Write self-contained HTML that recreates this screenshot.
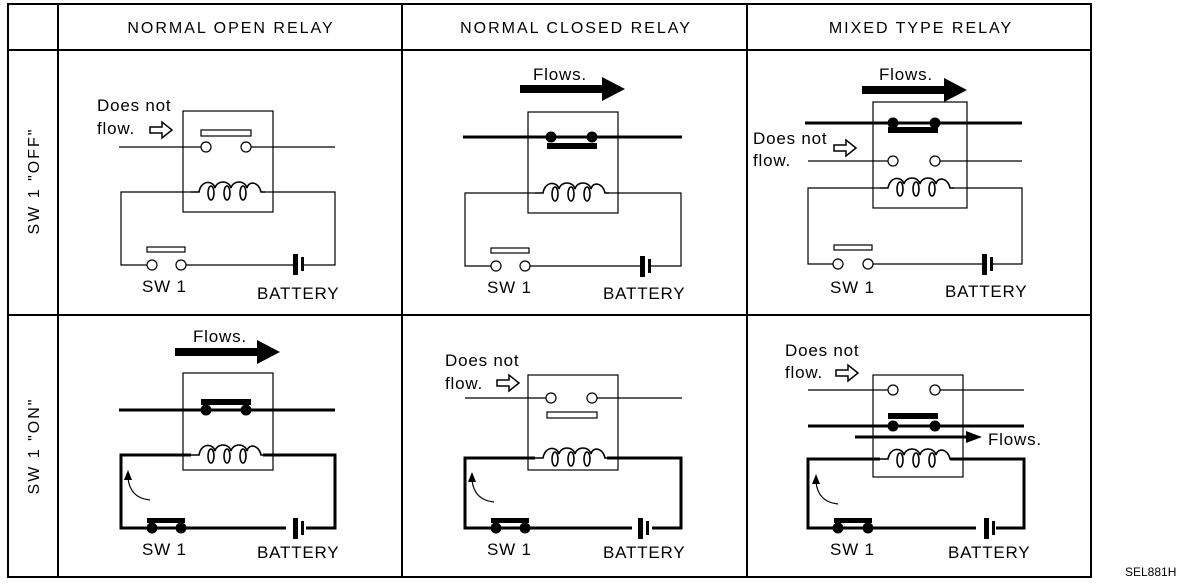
<!DOCTYPE html>
<html><head><meta charset="utf-8"><style>
html,body{margin:0;padding:0;background:#fff;}
svg{display:block;font-family:"Liberation Sans",sans-serif;}
</style></head><body>
<svg width="1200" height="588" viewBox="0 0 1200 588" xmlns="http://www.w3.org/2000/svg">
<defs>
<g id="coil" fill="none" stroke="#000" stroke-width="1.6">
<path d="M0,0 h8 c2,-12 14,-12 16,-4 c2,-8 14,-8 16,0 c2,-8 14,-8 16,0 c2,-8 12,-6 14,4 h4"/>
<ellipse cx="20" cy="1" rx="3" ry="7"/><ellipse cx="36" cy="1" rx="3" ry="7"/><ellipse cx="52" cy="1" rx="3" ry="7"/>
</g>
<g id="hollow"><path d="M0,-3 h12 v-5 l10,8 l-10,8 v-5 h-12 z" fill="#fff" stroke="#000" stroke-width="1.5"/></g>
<g id="bigarrow"><path d="M0,-4 h82 v-8 l23,12 l-23,12 v-8 h-82 z" fill="#000"/></g>
<g id="batt"><rect x="0" y="-10" width="5" height="21" fill="#000"/><rect x="8" y="-7" width="3" height="14" fill="#000"/></g>
</defs>
<g stroke="#000" fill="none" stroke-width="2">
<rect x="8" y="4" width="1083" height="573"/>
<line x1="58" y1="4" x2="58" y2="577"/>
<line x1="402" y1="4" x2="402" y2="577"/>
<line x1="747" y1="4" x2="747" y2="577"/>
<line x1="8" y1="50" x2="1091" y2="50"/>
<line x1="8" y1="315" x2="1091" y2="315"/>
</g>
<g font-size="16" letter-spacing="2" text-anchor="middle" fill="#000">
<text x="231" y="33">NORMAL OPEN RELAY</text>
<text x="576" y="33">NORMAL CLOSED RELAY</text>
<text x="921" y="33">MIXED TYPE RELAY</text>
<text transform="translate(39,181) rotate(-90)">SW 1 "OFF"</text>
<text transform="translate(39,446) rotate(-90)">SW 1 "ON"</text>
</g>
<g font-size="17" letter-spacing="0.8" fill="#000">
<text x="97" y="111">Does not</text><text x="97" y="134">flow.</text>
<use href="#hollow" x="150" y="130"/>
<text x="142" y="292">SW 1</text><text x="257" y="299">BATTERY</text>
<text x="533" y="80">Flows.</text>
<text x="487" y="293">SW 1</text><text x="603" y="299">BATTERY</text>
<text x="879" y="80">Flows.</text>
<text x="753" y="144">Does not</text><text x="753" y="166">flow.</text>
<use href="#hollow" x="834" y="148"/>
<text x="830" y="293">SW 1</text><text x="945" y="297">BATTERY</text>
<text x="193" y="342">Flows.</text>
<text x="142" y="555">SW 1</text><text x="257" y="558">BATTERY</text>
<text x="445" y="366">Does not</text><text x="445" y="389">flow.</text>
<use href="#hollow" x="497" y="383"/>
<text x="487" y="555">SW 1</text><text x="603" y="558">BATTERY</text>
<text x="785" y="356">Does not</text><text x="785" y="378">flow.</text>
<use href="#hollow" x="836" y="373"/>
<text x="988" y="445">Flows.</text>
<text x="830" y="555">SW 1</text><text x="948" y="558">BATTERY</text>
</g>
<text x="1125" y="576" font-size="12" font-family="Liberation Sans,sans-serif">SEL881H</text>
<g stroke="#000" fill="none" stroke-width="1.2">
<rect x="183" y="111" width="90" height="101"/>
<rect x="201" y="130" width="50" height="6"/>
<line x1="119" y1="147" x2="201" y2="147"/><line x1="251" y1="147" x2="335" y2="147"/>
<circle cx="206" cy="147" r="5" fill="#fff"/><circle cx="246" cy="147" r="5" fill="#fff"/>
<path d="M191,192 H121 V265 H147 M186,265 H293 M303,265 H335 V192 H263"/>
<rect x="147" y="247" width="38" height="5"/>
<circle cx="152" cy="265" r="5" fill="#fff"/><circle cx="181" cy="265" r="5" fill="#fff"/>
<rect x="528" y="112" width="90" height="101"/>
<path d="M535,193 H465 V266 H492 M530,266 H640 M650,266 H681 V193 H607"/>
<rect x="491" y="248" width="38" height="5"/>
<circle cx="496" cy="266" r="5" fill="#fff"/><circle cx="525" cy="266" r="5" fill="#fff"/>
<rect x="873" y="102" width="94" height="106"/>
<line x1="808" y1="161" x2="888" y2="161"/><line x1="940" y1="161" x2="1022" y2="161"/>
<circle cx="893" cy="161" r="5" fill="#fff"/><circle cx="935" cy="161" r="5" fill="#fff"/>
<path d="M880,188 H808 V264 H833 M872,264 H982 M992,264 H1022 V188 H952"/>
<rect x="834" y="245" width="38" height="5"/>
<circle cx="838" cy="264" r="5" fill="#fff"/><circle cx="868" cy="264" r="5" fill="#fff"/>
<rect x="183" y="373" width="90" height="97"/>
<rect x="528" y="375" width="90" height="95"/>
<rect x="547" y="412" width="50" height="6"/>
<line x1="465" y1="398" x2="546" y2="398"/><line x1="597" y1="398" x2="682" y2="398"/>
<circle cx="551" cy="398" r="5" fill="#fff"/><circle cx="592" cy="398" r="5" fill="#fff"/>
<rect x="873" y="375" width="90" height="102"/>
<line x1="808" y1="390" x2="888" y2="390"/><line x1="940" y1="390" x2="1024" y2="390"/>
<circle cx="893" cy="390" r="5" fill="#fff"/><circle cx="935" cy="390" r="5" fill="#fff"/>
</g>
<g stroke="#000" fill="none" stroke-width="3">
<line x1="463" y1="137" x2="682" y2="137"/>
<line x1="805" y1="123" x2="1022" y2="123"/>
<line x1="119" y1="410" x2="335" y2="410"/>
<line x1="808" y1="426" x2="1024" y2="426"/>
<path d="M191,455 H121 V528 H335 V455 H263"/>
<path d="M535,458 H465 V528 H681 V458 H607"/>
<path d="M880,459 H808 V528 H1024 V459 H950"/>
<line x1="855" y1="437" x2="968" y2="437"/>
</g>
<g fill="#fff"><rect x="286" y="518" width="20" height="20"/><rect x="632" y="518" width="20" height="20"/><rect x="976" y="518" width="20" height="20"/></g>
<g fill="#000">
<rect x="547" y="143" width="50" height="6"/><circle cx="551" cy="137" r="5.5"/><circle cx="592" cy="137" r="5.5"/>
<rect x="888" y="127" width="50" height="6"/><circle cx="893" cy="123" r="5.5"/><circle cx="935" cy="123" r="5.5"/>
<rect x="201" y="399" width="50" height="6"/><circle cx="206" cy="410" r="5.5"/><circle cx="246" cy="410" r="5.5"/>
<rect x="888" y="413" width="50" height="6"/><circle cx="893" cy="426" r="5.5"/><circle cx="935" cy="426" r="5.5"/>
<rect x="147" y="518" width="38" height="5"/><circle cx="152" cy="528" r="5.5"/><circle cx="181" cy="528" r="5.5"/>
<rect x="491" y="518" width="38" height="5"/><circle cx="496" cy="528" r="5.5"/><circle cx="525" cy="528" r="5.5"/>
<rect x="834" y="518" width="38" height="5"/><circle cx="838" cy="528" r="5.5"/><circle cx="868" cy="528" r="5.5"/>
<path d="M966,431 l16,6 l-16,6 z"/>
</g>
<use href="#batt" x="293" y="264"/>
<use href="#batt" x="640" y="266"/>
<use href="#batt" x="982" y="264"/>
<use href="#batt" x="293" y="528"/>
<use href="#batt" x="638" y="528"/>
<use href="#batt" x="984" y="528"/>
<use href="#coil" x="191" y="192"/>
<use href="#coil" x="535" y="193"/>
<use href="#coil" x="880" y="188"/>
<use href="#coil" x="191" y="455"/>
<use href="#coil" x="535" y="458"/>
<use href="#coil" x="880" y="459"/>
<use href="#bigarrow" x="520" y="89"/>
<use href="#bigarrow" x="862" y="90"/>
<use href="#bigarrow" x="175" y="352"/>
<g stroke="#000" fill="none" stroke-width="1.2">
<path d="M150,500 Q130,498 128,478"/><path d="M494,502 Q474,500 472,480"/><path d="M838,504 Q818,502 816,482"/>
</g>
<g fill="#000">
<path d="M124,480 l4,-10 l4,10 z"/><path d="M468,482 l4,-10 l4,10 z"/><path d="M812,484 l4,-10 l4,10 z"/>
</g>
</svg>
</body></html>
